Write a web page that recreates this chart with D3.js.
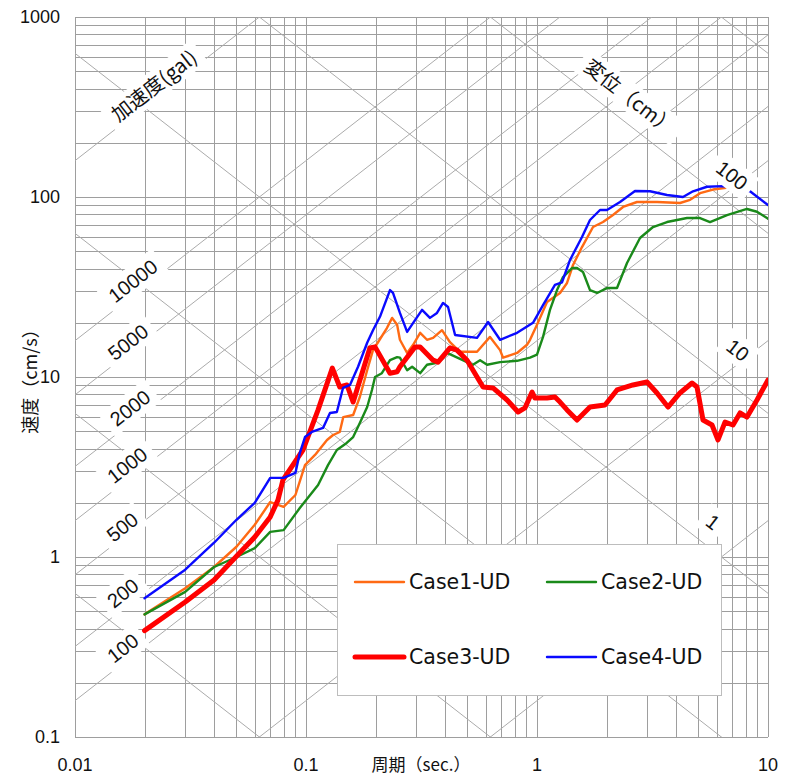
<!DOCTYPE html>
<html><head><meta charset="utf-8">
<script src="https://cdn.jsdelivr.net/npm/d3@7"></script>
<style>body{margin:0;background:#fff}</style>
</head><body>
<svg id="chart" width="788" height="776"></svg>
<script>
// ---- data ----
const xTicks = [0.01, 0.1, 1, 10];
const xTickLabels = ["0.01", "0.1", "1", "10"];
const yTicks = [0.1, 1, 10, 100, 1000];
const yTickLabels = ["0.1", "1", "10", "100", "1000"];
const accelLines = [1, 10, 100, 200, 500, 1000, 2000, 5000, 10000, 100000];   // gal
const dispLines = [0.001, 0.01, 0.1, 1, 10, 100, 1000];                       // cm
const accelLabels = [
  {text: "加速度(gal)", T: 0.0220, V: 414, cjk: true},
  {text: "10000", T: 0.0178, V: 34.2},
  {text: "5000", T: 0.01696, V: 15.6},
  {text: "2000", T: 0.0173, V: 6.73},
  {text: "1000", T: 0.0168, V: 3.24},
  {text: "500", T: 0.0160, V: 1.468},
  {text: "200", T: 0.0161, V: 0.631},
  {text: "100", T: 0.0161, V: 0.312}
];
const dispLabels = [
  {text: "変位（cm）", T: 2.527, V: 359, cjk: true},
  {text: "100", T: 6.99, V: 132},
  {text: "10", T: 7.41, V: 14.1},
  {text: "1", T: 5.78, V: 1.564}
];
const seriesNames = ["Case1-UD", "Case2-UD", "Case3-UD", "Case4-UD"];
const seriesColors = ["#ff6a14", "#1a8a1a", "#ff0000", "#0a0aff"];
const seriesWidths = [2.4, 2.4, 5, 2.4];

const case1 = [[0.02,0.48],[0.03,0.67],[0.04,0.88],[0.05,1.14],[0.06,1.51],[0.07,2.02],[0.08,1.90],[0.09,2.21],
 [0.099,3.24],[0.1094,3.69],[0.1233,4.47],[0.131,4.76],[0.140,4.95],[0.145,5.99],[0.160,6.15],[0.171,7.74],
 [0.184,10.9],[0.195,14.1],[0.205,15.6],[0.224,18.7],[0.236,21.3],[0.248,19.5],[0.255,16.1],[0.274,13.6],
 [0.291,15.1],[0.312,17.6],[0.334,16.1],[0.355,16.5],[0.388,18.2],[0.420,15.6],[0.464,13.8],[0.550,13.8],
 [0.626,16.7],[0.692,14.1],[0.713,12.8],[0.820,13.6],[0.905,15.1],[0.933,16.1],[1.0,19.5],[1.105,26.1],
 [1.258,29.3],[1.349,33.3],[1.432,41.9],[1.566,52.7],[1.748,68.1],[1.931,72.6],[2.133,79.4],[2.357,88.0],
 [2.71,93.8],[3.31,93.8],[4.16,92.6],[4.60,96.4],[5.08,105],[5.78,110],[6.71,113]];
const case2 = [[0.02,0.48],[0.03,0.64],[0.04,0.88],[0.05,1.0],[0.06,1.12],[0.07,1.38],[0.08,1.41],[0.094,1.87],
 [0.1128,2.51],[0.1245,3.24],[0.136,3.93],[0.150,4.30],[0.160,4.64],[0.171,5.55],[0.184,6.81],[0.193,8.47],
 [0.199,10.0],[0.213,10.5],[0.231,12.4],[0.248,12.9],[0.255,12.8],[0.274,10.9],[0.288,11.4],[0.312,10.5],
 [0.334,11.7],[0.369,12.0],[0.408,13.6],[0.498,12.1],[0.528,11.7],[0.567,12.4],[0.608,11.7],[0.692,12.1],
 [0.820,12.3],[0.933,12.8],[1.0,13.3],[1.062,16.7],[1.138,23.6],[1.221,30.4],[1.296,35.9],[1.418,40.3],
 [1.49,40.3],[1.582,38.3],[1.696,30.4],[1.819,29.3],[2.009,31.2],[2.22,31.2],[2.453,43.0],[2.792,59.2],
 [3.178,68.1],[3.654,72.6],[4.46,76.4],[5.08,76.4],[5.61,72.6],[6.645,79.4],[8.11,85.8],[8.96,82.8],
 [9.90,76.4],[10,75.8]];
const case3 = [[0.02,0.39],[0.03,0.562],[0.04,0.745],[0.05,1.01],[0.06,1.29],[0.07,1.67],[0.0756,2.07],
 [0.0795,2.68],[0.097,3.93],[0.1128,6.57],[0.130,11.2],[0.140,8.80],[0.1505,9.03],[0.160,7.26],[0.189,14.5],
 [0.199,14.7],[0.231,10.5],[0.248,10.7],[0.255,11.4],[0.2965,14.7],[0.312,14.7],[0.355,12.4],[0.373,12.1],
 [0.420,14.5],[0.4505,14.1],[0.498,12.4],[0.584,8.80],[0.645,8.69],[0.742,7.45],[0.828,6.39],[0.887,6.73],
 [0.952,8.25],[0.980,7.64],[1.105,7.64],[1.196,7.74],[1.258,7.26],[1.349,6.56],[1.490,5.77],[1.696,6.81],
 [1.970,6.99],[2.22,8.47],[2.603,9.03],[2.994,9.38],[3.307,8.15],[3.691,6.81],[4.159,8.15],[4.689,9.26],
 [4.928,8.80],[5.231,5.77],[5.723,5.41],[6.075,4.47],[6.515,5.62],[7.055,5.41],[7.568,6.31],[8.111,5.99],
 [8.96,7.45],[10,9.62]];
const case4 = [[0.02,0.59],[0.03,0.85],[0.04,1.20],[0.05,1.61],[0.06,2.0],[0.07,2.75],[0.08,2.75],[0.09,2.93],
 [0.094,3.78],[0.099,4.64],[0.106,4.95],[0.1185,5.21],[0.127,6.31],[0.136,6.39],[0.1446,8.69],[0.155,9.03],
 [0.168,11.4],[0.184,15.5],[0.195,18.2],[0.209,21.6],[0.231,30.4],[0.238,29.3],[0.255,22.7],[0.274,17.8],
 [0.2965,20.7],[0.318,23.6],[0.344,21.3],[0.369,22.7],[0.392,25.8],[0.412,24.5],[0.442,17.1],[0.550,16.5],
 [0.614,20.2],[0.692,16.1],[0.820,17.6],[0.961,20.0],[1.062,25.1],[1.196,32.5],[1.283,33.6],[1.390,44.7],
 [1.566,60.0],[1.696,74.5],[1.874,84.7],[2.009,84.7],[2.288,93.8],[2.656,108],[3.085,107.6],[3.654,102.6],
 [4.285,100],[4.736,107.6],[5.444,114],[6.386,115],[8.358,107.6],[10,90.3]];
const allSeries = [case1, case2, case3, case4];

// ---- drawing ----
const svg = d3.select("#chart");
const L = 75, R = 768, T0 = 17, B = 737;
const x = d3.scaleLog().domain([0.01, 10]).range([L, R]);
const y = d3.scaleLog().domain([0.1, 1000]).range([B, T0]);
const numFont = "'Liberation Sans', Arial, sans-serif";
const cjkFont = "'Noto Sans CJK JP', 'Liberation Sans', sans-serif";

svg.append("defs").append("clipPath").attr("id", "plotClip")
  .append("rect").attr("x", L).attr("y", T0).attr("width", R - L).attr("height", B - T0);

// rectilinear grid
const minorVals = (lo, hi) => {
  const out = [];
  for (let e = Math.log10(lo); e < Math.log10(hi); e++)
    for (let k = 1; k <= 9; k++) out.push(k * Math.pow(10, e));
  out.push(hi);
  return out;
};
const grid = svg.append("g").attr("stroke", "#9e9e9e").attr("stroke-width", 1).attr("fill", "none");
minorVals(0.1, 1000).forEach(v => {
  const yy = Math.round(y(v)) + 0.5;
  grid.append("line").attr("x1", L).attr("x2", R).attr("y1", yy).attr("y2", yy);
});
minorVals(0.01, 10).forEach(t => {
  const xx = Math.round(x(t)) + 0.5;
  grid.append("line").attr("x1", xx).attr("x2", xx).attr("y1", T0).attr("y2", B);
});

// diagonal grid
const diag = svg.append("g").attr("clip-path", "url(#plotClip)")
  .attr("stroke", "#ababab").attr("stroke-width", 1).attr("fill", "none");
const twoPi = 2 * Math.PI;
accelLines.forEach(A => {
  const v = t => A * t / twoPi;
  diag.append("line").attr("x1", x(0.01)).attr("y1", y(v(0.01))).attr("x2", x(10)).attr("y2", y(v(10)));
});
dispLines.forEach(D => {
  const v = t => twoPi * D / t;
  diag.append("line").attr("x1", x(0.01)).attr("y1", y(v(0.01))).attr("x2", x(10)).attr("y2", y(v(10)));
});

// tick labels
svg.append("g").selectAll("text").data(yTicks).join("text")
  .attr("x", 60).attr("y", d => y(d)).attr("dy", "0.36em")
  .attr("text-anchor", "end").attr("font-family", numFont).attr("font-size", 18).attr("fill", "#111")
  .text((d, i) => yTickLabels[i]);
svg.append("g").selectAll("text").data(xTicks).join("text")
  .attr("x", d => x(d)).attr("y", 771)
  .attr("text-anchor", "middle").attr("font-family", numFont).attr("font-size", 18).attr("fill", "#111")
  .text((d, i) => xTickLabels[i]);

// axis titles
svg.append("text").attr("transform", "translate(37,377) rotate(-90)")
  .attr("text-anchor", "middle").attr("font-family", cjkFont).attr("font-size", 18).attr("fill", "#111")
  .text("速度（cm/s）");
svg.append("text").attr("x", 421).attr("y", 771)
  .attr("text-anchor", "middle").attr("font-family", cjkFont).attr("font-size", 17).attr("fill", "#111")
  .text("周期（sec.）");

// legend
const lg = svg.append("g");
lg.append("rect").attr("x", 337.5).attr("y", 544.5).attr("width", 384).attr("height", 151)
  .attr("fill", "#fff").attr("stroke", "#bdbdbd").attr("stroke-width", 1);
const legendPos = [[355, 582], [547, 582], [355, 657], [547, 657]];
seriesNames.forEach((name, i) => {
  const [lx, ly] = legendPos[i];
  lg.append("line").attr("x1", lx).attr("x2", lx + 49).attr("y1", ly).attr("y2", ly)
    .attr("stroke", seriesColors[i]).attr("stroke-width", seriesWidths[i]).attr("stroke-linecap", "round");
  lg.append("text").attr("x", lx + 54).attr("y", ly).attr("dy", "0.36em")
    .attr("font-family", "'DejaVu Sans', sans-serif").attr("font-size", 20.5).attr("fill", "#111").text(name);
});

// series
const line = d3.line().x(d => x(d[0])).y(d => y(d[1])).curve(d3.curveLinear);
const sg = svg.append("g").attr("clip-path", "url(#plotClip)");
allSeries.forEach((s, i) => {
  sg.append("path").datum(s).attr("d", line).attr("fill", "none")
    .attr("stroke", seriesColors[i]).attr("stroke-width", seriesWidths[i])
    .attr("stroke-linejoin", "round").attr("stroke-linecap", "round");
});

// diagonal labels with white backgrounds
const accelAngle = Math.atan2(y(10) - y(1), x(1) - x(0.1)) * 180 / Math.PI;  // up-right
const dispAngle = -accelAngle;
function addLabel(d, angle) {
  const g = svg.append("g").attr("transform", `translate(${x(d.T)},${y(d.V)}) rotate(${angle})`);
  const rect = g.append("rect").attr("fill", "#fff");
  const t = g.append("text").attr("text-anchor", "middle").attr("dy", "0.36em")
    .attr("font-family", d.cjk ? cjkFont : numFont).attr("font-size", 20)
    .attr("fill", "#111").text(d.text);
  const bb = t.node().getBBox();
  rect.attr("x", bb.x - 7).attr("y", -14).attr("width", bb.width + 14).attr("height", 28);
}
accelLabels.forEach(d => addLabel(d, accelAngle));
dispLabels.forEach(d => addLabel(d, dispAngle));
</script>
</body></html>
